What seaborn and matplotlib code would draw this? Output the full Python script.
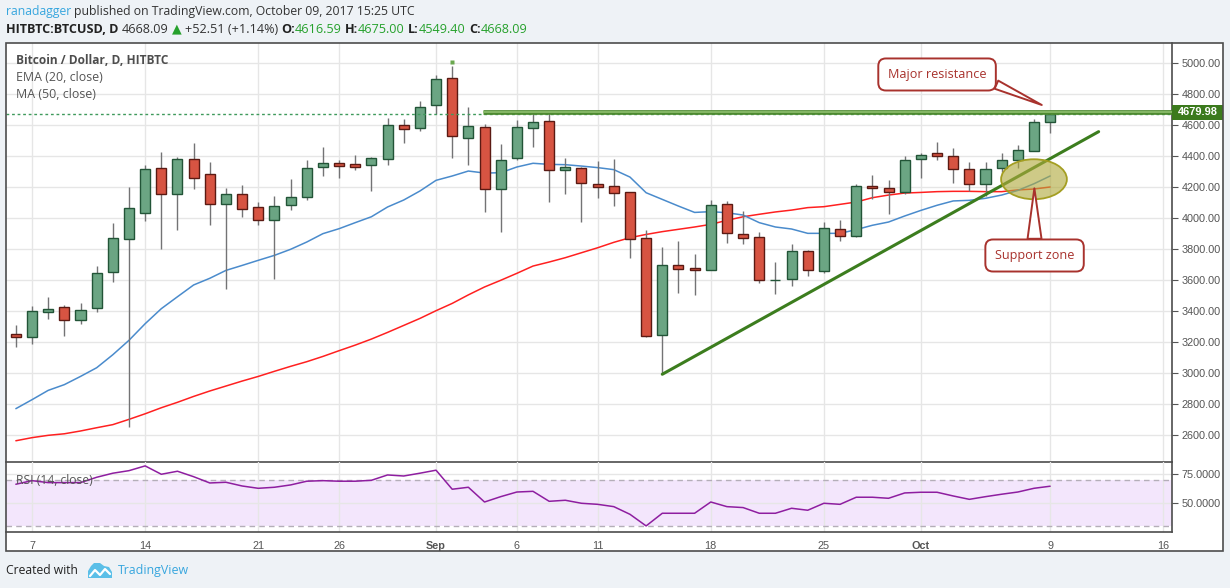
import numpy as np
import pandas as pd
import matplotlib
matplotlib.use("Agg")
import matplotlib.pyplot as plt
import matplotlib.transforms as mtransforms
from matplotlib.patches import Rectangle, Ellipse, Polygon
import seaborn as sns

# ---------------- data ----------------
dates = pd.date_range("2017-08-06", "2017-10-09", freq="D")
opens = [3252, 3232, 3394, 3422, 3342, 3415, 3647, 3860, 4032, 4318, 4155, 4376, 4280, 4086, 4151, 4069,
         3983, 4080, 4131, 4325, 4351, 4344, 4338, 4376, 4596, 4576,
         4725, 4899, 4516, 4583, 4183, 4383, 4576, 4622, 4305, 4318, 4219, 4202, 4163, 3867, 3241, 3692,
         3673, 3665, 4086, 3893, 3873, 3598, 3602, 3783,
         3654, 3925, 3880, 4202, 4191, 4163,
         4376, 4415, 4396, 4312, 4219, 4318, 4370, 4428, 4616.59]
highs = [3305, 3428, 3488, 3434, 3447, 3688, 3966, 4200, 4340, 4424, 4389, 4484, 4359, 4191, 4211, 4101,
         4140, 4252, 4372, 4456, 4372, 4404, 4389, 4643, 4637, 4753,
         4920, 4978, 4714, 4602, 4475, 4630, 4677, 4677, 4383, 4327, 4366, 4379, 4163, 3920, 3811, 3849,
         3766, 4114, 4108, 4043, 3908, 3714, 3830, 3791,
         3972, 3985, 4219, 4275, 4243, 4398,
         4417, 4490, 4452, 4361, 4361, 4417, 4469, 4637, 4675.00]
lows = [3166, 3187, 3346, 3237, 3314, 3391, 3587, 2648, 3979, 3800, 3923, 4187, 3955, 3542, 4007, 3955,
        3607, 4052, 4112, 4271, 4258, 4310, 4174, 4342, 4484, 4559,
        4667, 4387, 4340, 4039, 3910, 4370, 4458, 4103, 4155, 3974, 4129, 4077, 3742, 3232, 2990, 3516,
        3503, 3660, 3839, 3832, 3581, 3510, 3561, 3626,
        3641, 3852, 3875, 4118, 4022, 4151,
        4258, 4374, 4226, 4172, 4140, 4297, 4323, 4428, 4549.40]
closes = [3232, 3400, 3413, 3342, 3406, 3641, 3867, 4060, 4312, 4155, 4376, 4254, 4086, 4151, 4054, 3987,
          4073, 4133, 4318, 4351, 4336, 4329, 4383, 4596, 4570, 4712,
          4892, 4525, 4589, 4183, 4370, 4583, 4617, 4305, 4325, 4222, 4196, 4157, 3860, 3235, 3692, 3671,
          3665, 4080, 3899, 3867, 3596, 3600, 3783, 3660,
          3931, 3880, 4202, 4189, 4163, 4370,
          4402, 4396, 4312, 4215, 4312, 4372, 4434, 4615, 4668.09]
ema20 = [2768, 2826, 2886, 2923, 2976, 3032, 3116, 3209, 3316, 3413, 3490, 3566, 3609, 3660, 3692, 3725,
         3757, 3796, 3843, 3897, 3929, 3968, 4006, 4069, 4114, 4172,
         4241, 4269, 4301, 4288, 4290, 4327, 4351, 4344, 4342, 4333, 4323, 4310, 4262, 4161, 4118, 4075,
         4034, 4039, 4032, 4017, 3968, 3940, 3927, 3899,
         3899, 3899, 3923, 3951, 3972, 4011,
         4047, 4080, 4108, 4112, 4125, 4146, 4176, 4219, 4269]
ma50 = [2561, 2581, 2596, 2606, 2624, 2645, 2665, 2699, 2735, 2774, 2809, 2847, 2882, 2914, 2946, 2976,
        3009, 3041, 3071, 3105, 3142, 3178, 3217, 3260, 3305, 3350,
        3400, 3447, 3502, 3553, 3596, 3641, 3688, 3714, 3742, 3774, 3806, 3841, 3871, 3892, 3910, 3925,
        3940, 3957, 3983, 4006, 4022, 4037, 4049, 4065,
        4071, 4086, 4101, 4129, 4146, 4159,
        4163, 4168, 4170, 4170, 4168, 4168, 4179, 4185, 4198]
rsi14 = [66.4, 69.5, 67.8, 67.8, 67.8, 72.4, 75.9, 78.1, 82.2, 75.0, 77.6, 72.9, 67.5, 68.1, 64.9, 62.9,
         63.8, 65.8, 69.0, 69.5, 69.0, 69.0, 69.8, 74.4, 73.5, 75.9,
         78.5, 62.1, 63.8, 51.1, 55.7, 59.7, 60.3, 51.7, 52.6, 50.0, 49.1, 47.1, 40.5, 30.5, 41.4, 41.4,
         41.4, 51.1, 47.1, 46.3, 41.4, 41.4, 45.7, 44.0,
         50.0, 49.1, 55.2, 55.2, 54.3, 58.9,
         59.5, 59.5, 56.3, 53.4, 55.7, 57.8, 59.7, 62.9, 64.7]

tick_dates = ["2017-08-07", "2017-08-14", "2017-08-21", "2017-08-26", "2017-09-01", "2017-09-06",
              "2017-09-11", "2017-09-18", "2017-09-25", "2017-10-01", "2017-10-09", "2017-10-16"]
tick_labels = ["7", "14", "21", "26", "Sep", "6", "11", "18", "25", "Oct", "9", "16"]
price_ticks = list(range(2600, 5001, 200))
rsi_ticks = [50, 75]

resistance_level = 4679.98
resistance_start = "2017-09-03 22:00"
last_close = 4668.09
trend_dates = ["2017-09-15", "2017-10-12"]
trend_prices = [2990, 4555]
support_date, support_price = "2017-10-08", 4248
support_w_days, support_h_price = 4.07, 258
high_mark_date, high_mark_price = "2017-09-02", 5004

# ---------------- figure geometry ----------------
W, H = 1230, 588
BASE = pd.Timestamp("2017-08-07")
def dnum(d):
    return (pd.Timestamp(d) - BASE) / pd.Timedelta(days=1)
def fx(px):
    return px / W
def fy(py):
    return 1 - py / H

sns.set_style("white")
plt.rcParams["font.family"] = ["Open Sans", "DejaVu Sans"]

fig = plt.figure(figsize=(12.3, 5.88), dpi=100)
fig.patch.set_facecolor("#eef2f6")
renderer = fig.canvas.get_renderer()

def text_w(s, size=10, **kw):
    t = fig.text(0, 0, s, fontsize=size, **kw)
    w = t.get_window_extent(renderer).width
    t.remove()
    return w

def fit(s, target, **kw):
    return 10 * target / text_w(s, 10, **kw)

# chart frame
fig.add_artist(Rectangle((fx(6), fy(551)), fx(1223) - fx(6), fy(43) - fy(551), transform=fig.transFigure,
                         fc="white", ec="none", zorder=-5))
fig.add_artist(Rectangle((fx(6), fy(551)), fx(1223) - fx(6), fy(43) - fy(551), transform=fig.transFigure,
                         fc="none", ec="#4d4d4d", lw=1.2, zorder=20))

L, R = 6, 1172
ax = fig.add_axes([fx(L), fy(462.3), fx(R) - fx(L), fy(43.3) - fy(462.3)])
axr = fig.add_axes([fx(L), fy(532.3), fx(R) - fx(L), fy(462.3) - fy(532.3)], sharex=ax)
for a in (ax, axr):
    a.patch.set_alpha(0)
    a.set_axisbelow(True)
    for s in ("left", "top"):
        a.spines[s].set_visible(False)
    for s in ("right", "bottom"):
        a.spines[s].set_color("#4d4d4d")
        a.spines[s].set_linewidth(1.2)

x = np.array([dnum(d) for d in dates])
o, h, l, c = map(np.array, (opens, highs, lows, closes))
up = c >= o

ax.set_xlim(-1.61, 70.54)
ax.set_ylim(2422, 5125)
axr.set_ylim(25, 85.3)

tick_pos = [dnum(d) for d in tick_dates]
axr.set_xticks(tick_pos)
num_font = "Liberation Sans"
fs_num = fit("5000.00", 39.3, family=num_font)
axr.set_xticklabels(tick_labels, family=num_font, fontsize=fs_num, color="#555555")
for lab in axr.get_xticklabels():
    if lab.get_text() in ("Sep", "Oct"):
        lab.set_fontweight("bold")
axr.tick_params(axis="x", length=3, color="#555555", pad=3)
plt.setp(ax.get_xticklabels(), visible=False)
ax.tick_params(axis="x", length=0)

ax.yaxis.tick_right()
ax.set_yticks(price_ticks)
ax.set_yticklabels([f"{v:.2f}" for v in price_ticks], family=num_font, fontsize=fs_num, color="#555555")
ax.tick_params(axis="y", length=4, color="#555555", pad=3)
axr.yaxis.tick_right()
axr.set_yticks(rsi_ticks)
axr.set_yticklabels([f"{v:.4f}" for v in rsi_ticks], family=num_font, fontsize=fs_num, color="#555555")
axr.tick_params(axis="y", length=4, color="#555555", pad=3)

for a in (ax, axr):
    a.grid(True, color="#e6e6e6", lw=1)

# moving averages
sns.lineplot(x=x, y=ma50, ax=ax, color="#ff2020", lw=1.1, zorder=2, legend=False)
sns.lineplot(x=x, y=ema20, ax=ax, color="#4a8bcc", lw=1.1, zorder=2, legend=False)

# candles
ax.vlines(x, l, h, color="#737375", lw=1, zorder=3)
ax.bar(x[up], (c - o)[up], bottom=o[up], width=0.62, color="#6ba583", edgecolor="#225437", lw=1, zorder=4)
ax.bar(x[~up], (o - c)[~up], bottom=c[~up], width=0.62, color="#d75442", edgecolor="#5b1a13", lw=1, zorder=4)
ax.plot([dnum(high_mark_date)], [high_mark_price], marker="s", ms=2.5, color="#6aa84f", mec="none", zorder=4)

# last-price dotted line
ax.axhline(last_close, color="#3f9a5c", lw=1, ls=(0, (2, 2)), zorder=5)

# resistance line
rx = [dnum(resistance_start), 70.54]
ax.plot(rx, [resistance_level] * 2, color="#4e8a30", lw=3.4, solid_capstyle="butt", zorder=6)
ax.plot(rx, [resistance_level] * 2, color="#8fc070", lw=1.2, solid_capstyle="butt", zorder=6)

# trend line
sns.lineplot(x=[dnum(d) for d in trend_dates], y=trend_prices, ax=ax, color="#3c7d1e", lw=2.2, zorder=6,
             legend=False)

# support ellipse
ax.add_patch(Ellipse((dnum(support_date), support_price), support_w_days, support_h_price,
                     fc=(0.69, 0.665, 0.24, 0.62), ec="#a49e22", lw=1.3, zorder=7))

# price label on axis
blend = mtransforms.blended_transform_factory(ax.transAxes, ax.transData)
ax.add_patch(Rectangle((1.0, resistance_level - 48), (1223 - 1172) / (R - L), 96, transform=blend,
                       fc="#3b7a1d", ec="none", clip_on=False, zorder=15))
ax.text(1.0 + 25.5 / (R - L), resistance_level, f"{resistance_level:.2f}", transform=blend, ha="center",
        va="center", color="white", fontweight="bold", family=num_font,
        fontsize=fit("4679.98", 40, family=num_font, fontweight="bold"), zorder=16, clip_on=False)

# callouts
def px2x(px):
    return (px - 32) / 16.16
def py2p(py):
    return 5000 - (py - 62.7) / 0.155

red = "#a8322d"
fs_call = fit("Major resistance", 98, family="Open Sans")
ax.annotate("Major resistance", xy=(px2x(1041.7), py2p(105)), xytext=(px2x(937), py2p(74.5)),
            ha="center", va="center", color=red, fontsize=fs_call, zorder=12,
            bbox=dict(boxstyle="round,pad=0.75,rounding_size=0.6", fc="white", ec=red, lw=1.4),
            arrowprops=dict(arrowstyle="wedge,tail_width=0.7,shrink_factor=0.5", fc="white", ec=red,
                            lw=1.4, relpos=(0.96, 0.2), shrinkA=0, shrinkB=0))
ax.annotate("Support zone", xy=(px2x(1034.3), py2p(188.3)), xytext=(px2x(1034.5), py2p(255.5)),
            ha="center", va="center", color=red, fontsize=fs_call, zorder=12,
            bbox=dict(boxstyle="round,pad=0.75,rounding_size=0.6", fc="white", ec=red, lw=1.4),
            arrowprops=dict(arrowstyle="wedge,tail_width=1.1,shrink_factor=0.5", fc="white", ec=red,
                            lw=1.4, relpos=(0.5, 0.9), shrinkA=0, shrinkB=0))

# RSI pane
axr.axhspan(30, 70, color="#f3e6fc", zorder=0.2, lw=0)
for lev in (70, 30):
    axr.axhline(lev, color="#b4aeb8", lw=1, ls=(0, (4, 3)), zorder=1)
sns.lineplot(x=x, y=rsi14, ax=axr, color="#8e1ea0", lw=1.1, zorder=3, legend=False)
axr.set_ylabel("")
ax.set_ylabel("")

# legend texts
fs_leg = fit("EMA (20, close)", 86, family="Open Sans")
fig.text(fx(15.7), fy(60.7), "Bitcoin / Dollar, D, HITBTC", fontsize=fit("Bitcoin / Dollar, D, HITBTC", 152.6,
         family="Open Sans", fontweight="bold"), fontweight="bold", color="#4d4d4d", va="center", ha="left",
         family="Open Sans")
fig.text(fx(15.7), fy(77.3), "EMA (20, close)", fontsize=fs_leg, color="#555555", va="center", ha="left",
         family="Open Sans")
fig.text(fx(15.7), fy(94), "MA (50, close)", fontsize=fs_leg, color="#555555", va="center", ha="left",
         family="Open Sans")
fig.text(fx(15.7), fy(480), "RSI (14, close)", fontsize=fit("RSI (14, close)", 76.7, family="Open Sans"),
         color="#555555", va="center", ha="left", family="Open Sans", zorder=30)

# header / footer rich text
FAM = ["Open Sans", "DejaVu Sans"]
def rich(parts, x0, yc, target):
    def measure(size):
        sp = text_w("x x", size, family=FAM) - text_w("xx", size, family=FAM)
        tot = 0
        ws = []
        for s, col, wt, gap in parts:
            w = text_w(s, size, family=FAM, fontweight=wt)
            ws.append(w)
            tot += gap * sp + w
        return tot, ws, sp
    tot, _, _ = measure(10)
    size = 10 * target / tot
    _, ws, sp = measure(size)
    xx = x0
    for (s, col, wt, gap), w in zip(parts, ws):
        xx += gap * sp
        fig.text(fx(xx), fy(yc), s, fontsize=size, color=col, fontweight=wt, family=FAM,
                 va="center", ha="left")
        xx += w

blue = "#37a6de"
green = "#26a12c"
rich([("ranadagger", blue, "normal", 0),
      ("published on TradingView.com, October 09, 2017 15:25 UTC", "#333333", "normal", 1)], 6, 11.7, 409)
rich([("HITBTC:BTCUSD, D", "#222222", "bold", 0), ("4668.09", "#333333", "normal", 1),
      ("\u25b2", green, "normal", 1), ("+52.51 (+1.14%)", "#333333", "normal", 1),
      ("O:", "#222222", "bold", 1), ("4616.59", green, "normal", 0),
      ("H:", "#222222", "bold", 1), ("4675.00", green, "normal", 0),
      ("L:", "#222222", "bold", 1), ("4549.40", green, "normal", 0),
      ("C:", "#222222", "bold", 1), ("4668.09", green, "normal", 0)], 6, 29.3, 519)

fig.text(fx(6), fy(570.7), "Created with", fontsize=fit("Created with", 72, family="Open Sans"),
         color="#222222", va="center", ha="left", family="Open Sans")
fig.text(fx(118), fy(570.7), "TradingView", fontsize=fit("TradingView", 71, family="Open Sans"),
         color=blue, va="center", ha="left", family="Open Sans")
logo = [(88, 578), (112, 578), (112, 572), (109, 567), (104, 566), (100, 563), (94, 563), (91, 566),
        (88, 571)]
fig.add_artist(Polygon([(fx(a), fy(b)) for a, b in logo], closed=True, transform=fig.transFigure,
                       fc="#5bbfe8", ec="none"))
zig = [(90, 576), (95, 570), (100, 575), (105, 569), (110, 574)]
fig.add_artist(plt.Line2D([fx(a) for a, b in zig], [fy(b) for a, b in zig], transform=fig.transFigure,
                          color="white", lw=1.6))

fig.savefig("out.png", dpi=100, facecolor=fig.get_facecolor())
